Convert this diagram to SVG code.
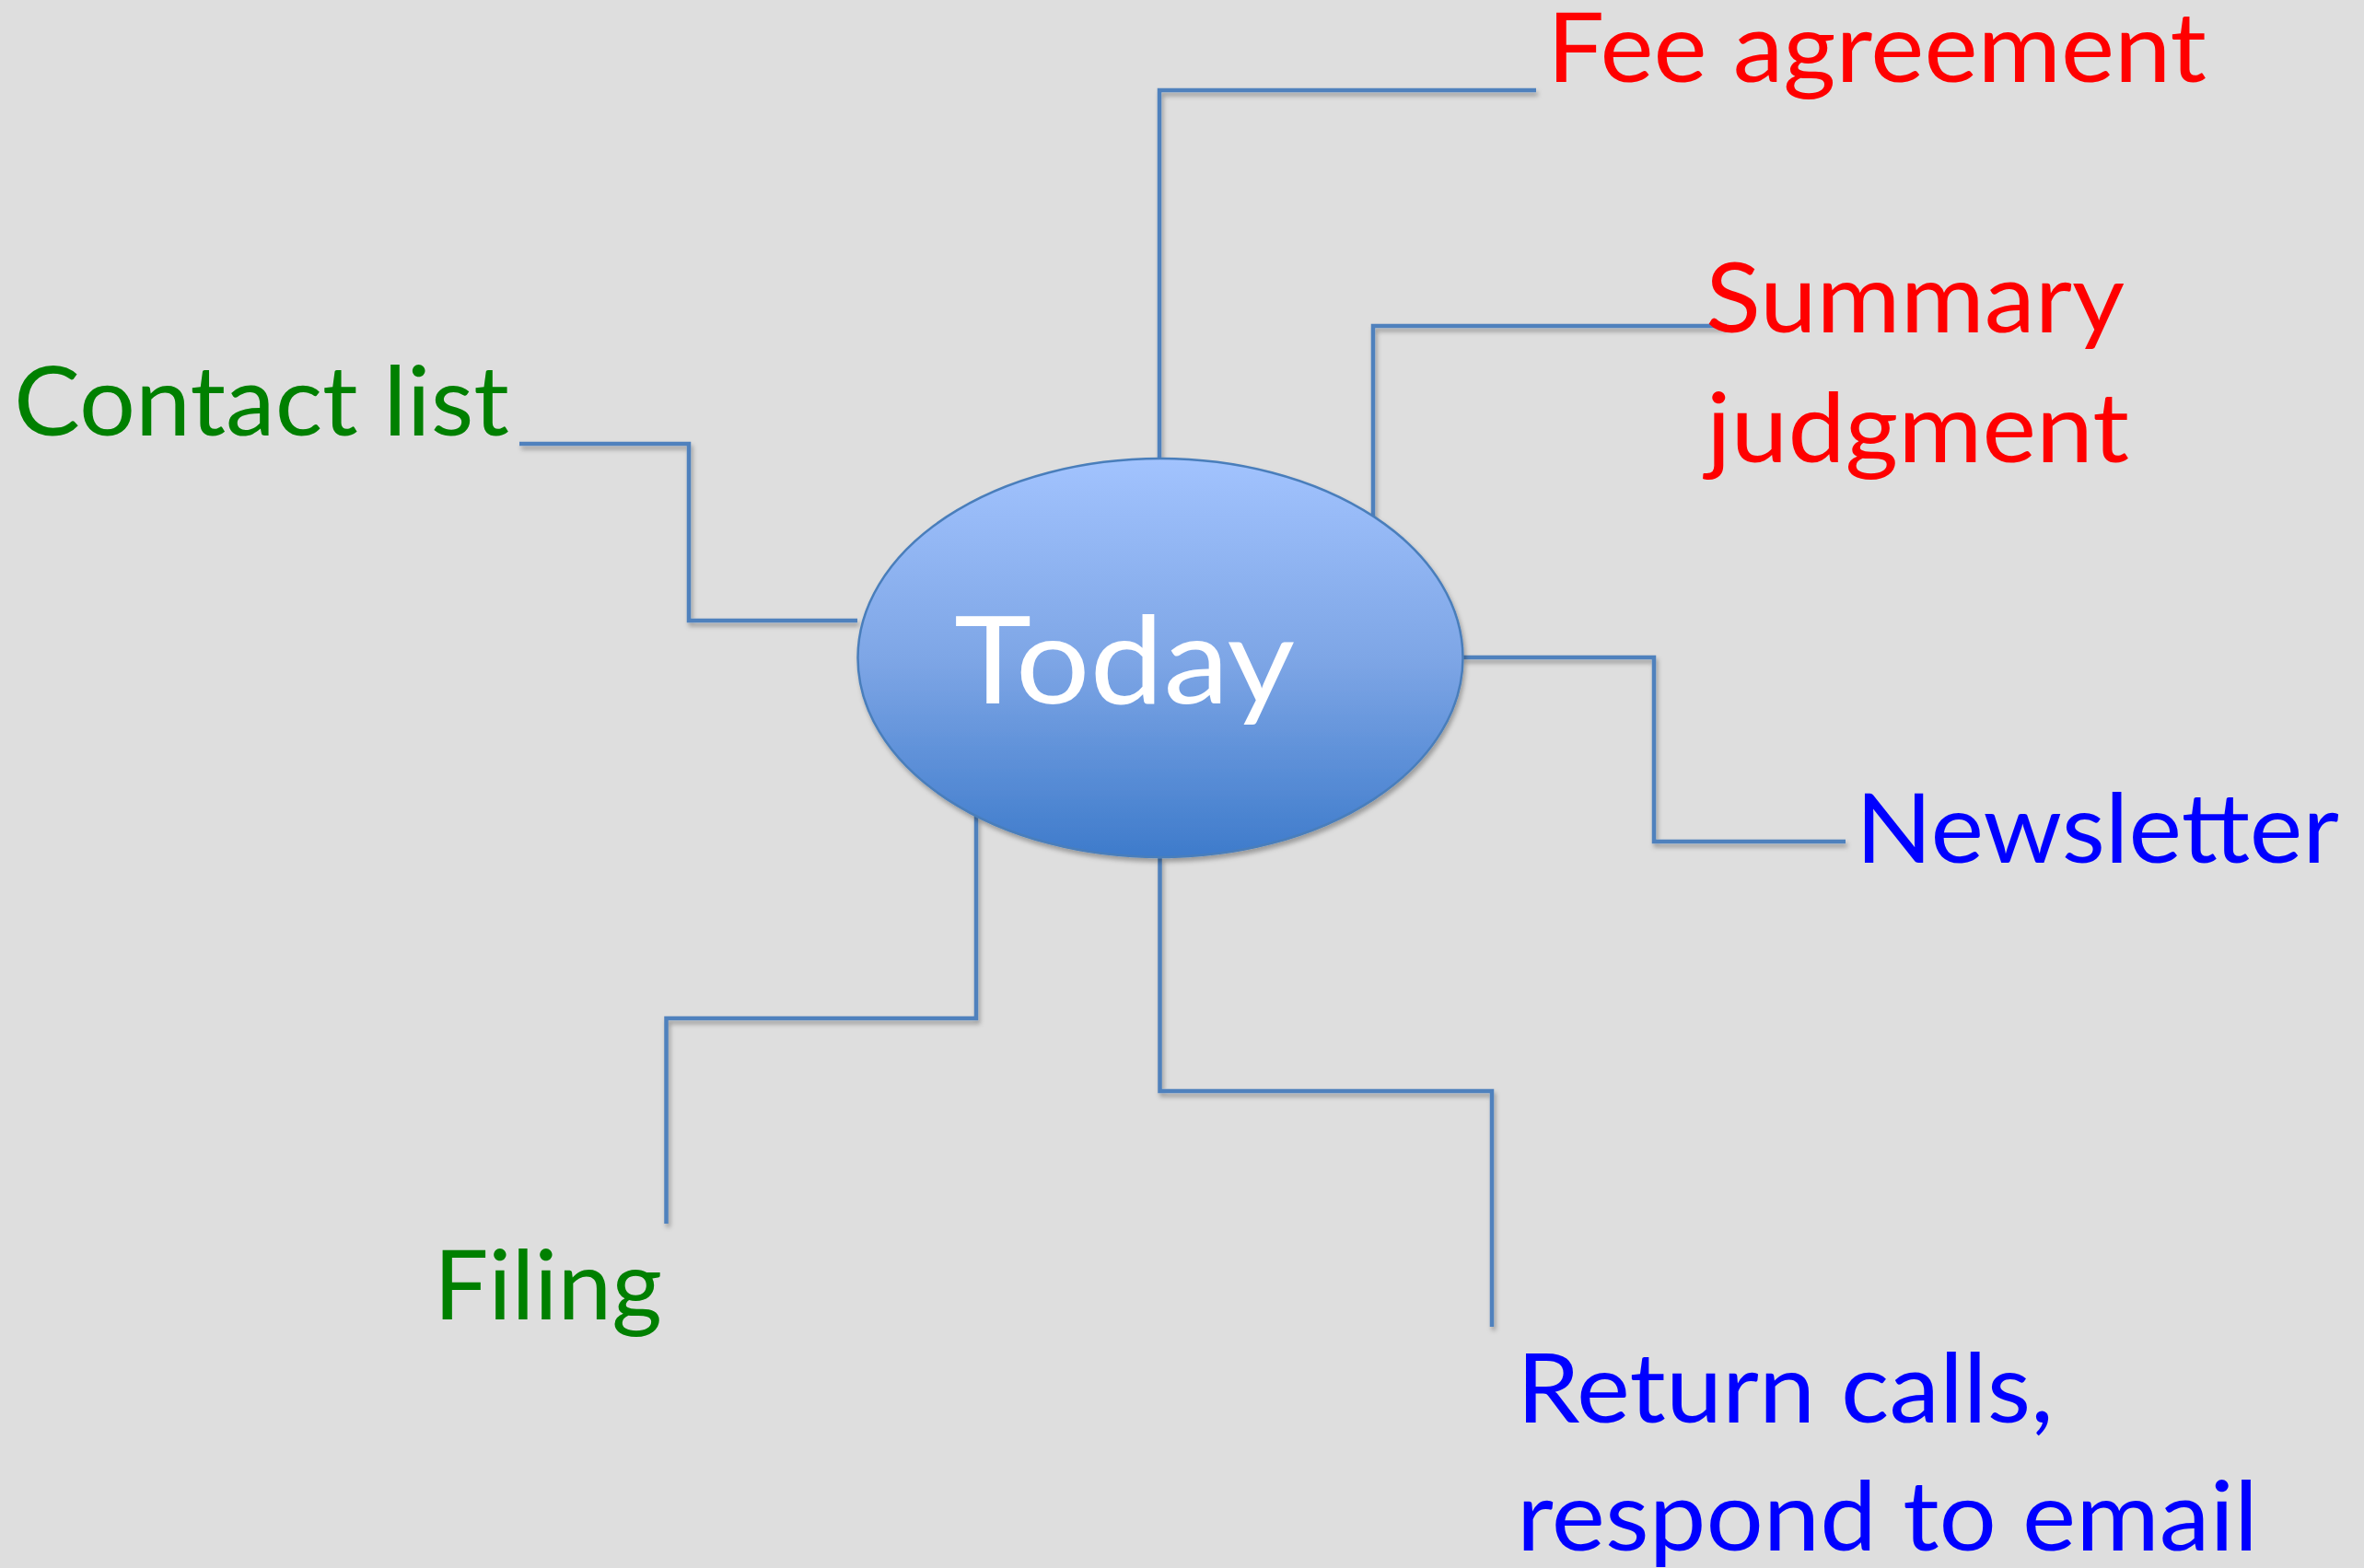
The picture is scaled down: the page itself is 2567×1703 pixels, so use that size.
<svg xmlns="http://www.w3.org/2000/svg" width="2567" height="1703" viewBox="0 0 2567 1703">
  <defs>
    <linearGradient id="ellGrad" x1="0" y1="0" x2="0" y2="1">
      <stop offset="0" stop-color="#A2C3FE"/>
      <stop offset="0.5" stop-color="#7EA6E6"/>
      <stop offset="1" stop-color="#3E7BCB"/>
    </linearGradient>
    <filter id="shadow" x="-10%" y="-10%" width="120%" height="120%">
      <feDropShadow dx="2" dy="4" stdDeviation="2.5" flood-color="#000" flood-opacity="0.3"/>
    </filter>
  </defs>
  <style>
    .bg { fill: #DEDEDE; }
    .conn { fill: none; stroke: #4F81BD; stroke-width: 4.5; stroke-linejoin: miter; filter: url(#shadow); }
    .lbl { font-family: Lato, "Liberation Sans", sans-serif; font-size: 104px; }
    .red { fill: #FF0000; }
    .green { fill: #008000; }
    .blue { fill: #0000FF; }
    .center { fill: url(#ellGrad); stroke: #4A7EBB; stroke-width: 2.5; filter: url(#shadow); }
    .centerText { font-family: Lato, "Liberation Sans", sans-serif; font-size: 132px; fill: #FFFFFF; }
  </style>
  <rect class="bg" x="0" y="0" width="2567" height="1703"/>

  <g id="connectors">
    <path class="conn" d="M1259,498 V98 H1668"/>
    <path class="conn" d="M1491,561 V354 H1875"/>
    <path class="conn" d="M931,674 H748 V482 H564"/>
    <path class="conn" d="M1588,714 H1796 V914 H2004"/>
    <path class="conn" d="M1060,886 V1106 H723.5 V1329"/>
    <path class="conn" d="M1259.5,931 V1185 H1620 V1441"/>
  </g>

  <g id="node-today">
    <ellipse class="center" cx="1260" cy="714.5" rx="328.5" ry="216.5"/>
    <text class="centerText" x="1036" y="764" textLength="370" lengthAdjust="spacingAndGlyphs">Today</text>
  </g>

  <g id="node-fee-agreement">
    <text class="lbl red" x="1680" y="89" textLength="716" lengthAdjust="spacingAndGlyphs">Fee agreement</text>
  </g>

  <g id="node-summary-judgment">
    <text class="lbl red" x="1852" y="361" textLength="455" lengthAdjust="spacingAndGlyphs">Summary</text>
    <text class="lbl red" x="1853" y="502" textLength="459" lengthAdjust="spacingAndGlyphs">judgment</text>
  </g>

  <g id="node-contact-list">
    <text class="lbl green" x="15" y="473" textLength="538" lengthAdjust="spacingAndGlyphs">Contact list</text>
  </g>

  <g id="node-newsletter">
    <text class="lbl blue" x="2015" y="937" textLength="525" lengthAdjust="spacingAndGlyphs">Newsletter</text>
  </g>

  <g id="node-filing">
    <text class="lbl green" x="471" y="1433" textLength="248" lengthAdjust="spacingAndGlyphs">Filing</text>
  </g>

  <g id="node-return-calls">
    <text class="lbl blue" x="1647" y="1545" textLength="583" lengthAdjust="spacingAndGlyphs">Return calls,</text>
    <text class="lbl blue" x="1647" y="1684" textLength="805" lengthAdjust="spacingAndGlyphs">respond to email</text>
  </g>
</svg>
